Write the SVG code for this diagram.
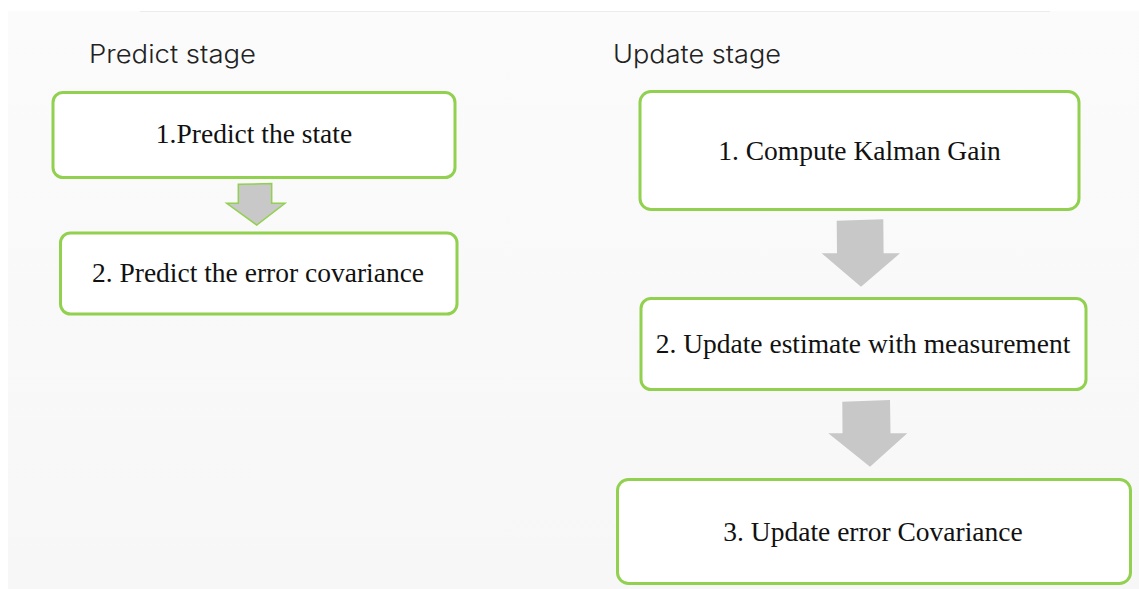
<svg xmlns="http://www.w3.org/2000/svg" width="1139" height="589" viewBox="0 0 1139 589">
  <style>
    .box { fill: #ffffff; stroke: #92d050; stroke-width: 3; }
    .step { font-family: "Liberation Serif", "Times New Roman", serif; font-size: 27.5px; fill: #111111; text-anchor: middle; }
    .stage { font-family: Inter, Lato, "Open Sans", sans-serif; font-weight: 300; font-size: 25px; fill: #222222; }
    .flow { fill: #c8c8c8; }
    .flow-outlined { fill: #c8c8c8; stroke: #92d050; stroke-width: 1.5; stroke-linejoin: miter; }
  </style>
  <defs>
    <linearGradient id="bg" x1="0" y1="0" x2="0" y2="1">
      <stop offset="0" stop-color="#fbfbfb"/>
      <stop offset="1" stop-color="#f7f7f7"/>
    </linearGradient>
  </defs>

  <!-- canvas -->
  <rect x="0" y="0" width="1139" height="589" fill="#ffffff"/>
  <rect x="8" y="11" width="1131" height="578" fill="url(#bg)"/>
  <line x1="140" y1="11.5" x2="1050" y2="11.5" stroke="#ececec" stroke-width="1"/>

  <!-- stage headings -->
  <text class="stage" x="89" y="63" textLength="167" lengthAdjust="spacingAndGlyphs">Predict stage</text>
  <text class="stage" x="613" y="63" textLength="168" lengthAdjust="spacingAndGlyphs">Update stage</text>

  <!-- connectors -->
  <g id="connectors">
    <polygon class="flow-outlined" points="238.3,184.3 271.7,183.5 271.7,203.3 285,203.3 256.7,225 226.7,203.3 238.3,203.3"/>
    <polygon class="flow" points="836.7,220.7 883.3,219.3 883.6,253.3 900,253.3 861,286.7 821.7,253.3 837,253.3"/>
    <polygon class="flow" points="842.3,401.7 890,400 890.5,433.3 907.3,433.3 870,466.7 828.3,433.3 842.5,433.3"/>
  </g>

  <!-- predict stage -->
  <g id="predict-state">
    <rect class="box" x="53" y="92.5" width="402" height="85" rx="10"/>
    <text class="step" x="254" y="143">1.Predict the state</text>
  </g>
  <g id="predict-covariance">
    <rect class="box" x="60.5" y="233" width="396.5" height="81" rx="10"/>
    <text class="step" x="258" y="282">2. Predict the error covariance</text>
  </g>

  <!-- update stage -->
  <g id="kalman-gain">
    <rect class="box" x="640" y="91.5" width="439" height="118" rx="11"/>
    <text class="step" x="859.5" y="159.5">1. Compute Kalman Gain</text>
  </g>
  <g id="update-estimate">
    <rect class="box" x="641" y="298.5" width="445" height="91" rx="10"/>
    <text class="step" x="863" y="353">2. Update estimate with measurement</text>
  </g>
  <g id="update-covariance">
    <rect class="box" x="617.5" y="479.5" width="513" height="104" rx="11"/>
    <text class="step" x="873" y="541">3. Update error Covariance</text>
  </g>
</svg>
